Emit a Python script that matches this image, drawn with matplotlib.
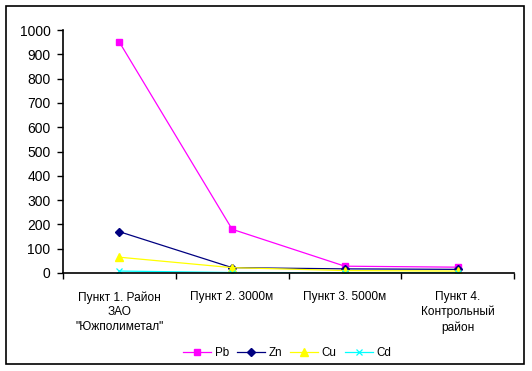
import numpy as np
import matplotlib
matplotlib.use("Agg")
import matplotlib.pyplot as plt
from matplotlib.patches import Rectangle

plt.rcParams['font.family'] = ['Liberation Sans', 'DejaVu Sans']

categories = ['Пункт 1. Район\nЗАО\n"Южполиметал"', 'Пункт 2. 3000м',
              'Пункт 3. 5000м', 'Пункт 4.\nКонтрольный\nрайон']
pb = [950, 180, 28, 24]
zn = [170, 22, 17, 15]
cu = [65, 22, 10, 8]
cd = [8, 2, 1, 1]

W, H = 532, 371
fig = plt.figure(figsize=(W / 100, H / 100), dpi=100)
ax = fig.add_axes([63 / W, 1 - 273 / H, 451 / W, 243 / H])

x = np.arange(len(categories))
ax.plot(x, pb, color='#FF00FF', marker='s', markersize=5, lw=0.9, label='Pb')
ax.plot(x, zn, color='#000080', marker='D', markersize=4, lw=0.9, label='Zn')
ax.plot(x, cu, color='#FFFF00', marker='^', markersize=6, lw=0.9, label='Cu')
ax.plot(x, cd, color='#00FFFF', marker='x', markersize=5, lw=0.9,
        markeredgewidth=0.9, label='Cd')

ax.set_xlim(-0.5, len(categories) - 0.5)
ax.set_ylim(0, 1000)
ax.set_yticks(np.arange(0, 1001, 100))
ax.tick_params(axis='y', labelsize=10, length=4, width=1, pad=5, direction='out')

# ticks between categories, labels centered
ax.set_xticks(np.arange(-0.5, len(categories), 1.0))
ax.set_xticklabels([])
ax.set_xticks(x, minor=True)
ax.set_xticklabels(categories, minor=True, fontsize=8.6, linespacing=1.3)
ax.tick_params(axis='x', which='major', length=4, width=1, direction='out')
ax.tick_params(axis='x', which='minor', length=0, pad=13)

for s in ['top', 'right']:
    ax.spines[s].set_visible(False)
for s in ['left', 'bottom']:
    ax.spines[s].set_linewidth(1.2)

fig.legend(loc='center', bbox_to_anchor=(287 / W, 1 - 353 / H), ncol=4,
           frameon=False, fontsize=8.4, handlelength=2.4, columnspacing=0.7,
           handletextpad=0.3)

fig.patches.append(Rectangle((6 / W, 1 - 364 / H), 518 / W, 358 / H,
                             transform=fig.transFigure, fill=False,
                             edgecolor='black', lw=1.2))

fig.savefig('out.png', dpi=100)
